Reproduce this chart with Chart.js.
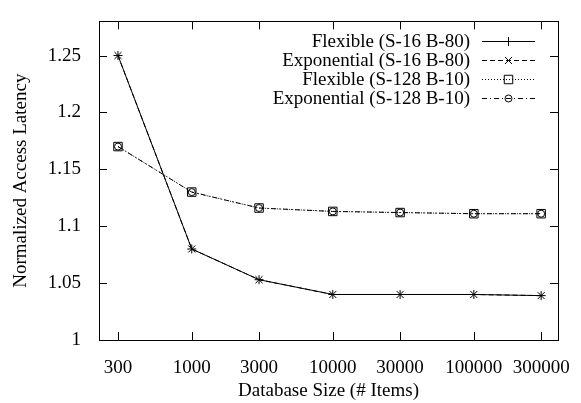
<!DOCTYPE html>
<html>
<head>
<meta charset="utf-8">
<script src="https://cdn.jsdelivr.net/npm/chart.js@4.4.1/dist/chart.umd.min.js"></script>
<style>
  html, body { margin: 0; padding: 0; background: #fff; }
</style>
</head>
<body>
<canvas id="myChart" width="581" height="403"></canvas>
<script>
// data
const sizes = [300, 1000, 3000, 10000, 30000, 100000, 300000];
const flexS16 = [1.25, 1.08, 1.053, 1.04, 1.04, 1.04, 1.039];
const expS16 = [1.25, 1.08, 1.053, 1.04, 1.04, 1.04, 1.039];
const flexS128 = [1.17, 1.13, 1.116, 1.113, 1.112, 1.111, 1.111];
const expS128 = [1.17, 1.13, 1.116, 1.113, 1.112, 1.111, 1.111];
const yTicks = [1, 1.05, 1.1, 1.15, 1.2, 1.25];
const labels = ['Flexible (S-16 B-80)', 'Exponential (S-16 B-80)', 'Flexible (S-128 B-10)', 'Exponential (S-128 B-10)'];

const font = 'Liberation Serif, Times New Roman, serif';

function pts(vals) {
    return sizes.map((s, i) => ({x: s, y: vals[i]}));
}

const styles = [
    {dash: [], point: 'cross', r: 4.5},
    {dash: [5, 3], point: 'crossRot', r: 5},
    {dash: [1, 2], point: 'rect', r: 6},
    {dash: [5, 3, 1, 3], point: 'circle', r: 3.5}
];

const series = [flexS16, expS16, flexS128, expS128];

// gnuplot-like frame with inward ticks and the key in the top right
const framePlugin = {
    id: 'frame',
    afterDraw(chart) {
        const ctx = chart.ctx;
        const a = chart.chartArea;
        const xs = chart.scales.x, ys = chart.scales.y;
        ctx.save();
        ctx.strokeStyle = '#000';
        ctx.lineWidth = 1;
        ctx.setLineDash([]);
        ctx.strokeRect(Math.round(a.left) + 0.5, Math.round(a.top) + 0.5, Math.round(a.right - a.left), Math.round(a.bottom - a.top));
        ctx.beginPath();
        sizes.forEach(v => {
            const px = Math.round(xs.getPixelForValue(v)) + 0.5;
            ctx.moveTo(px, a.bottom); ctx.lineTo(px, a.bottom - 8);
            ctx.moveTo(px, a.top); ctx.lineTo(px, a.top + 8);
        });
        yTicks.forEach(v => {
            const py = Math.round(ys.getPixelForValue(v)) + 0.5;
            ctx.moveTo(a.left, py); ctx.lineTo(a.left + 8, py);
            ctx.moveTo(a.right, py); ctx.lineTo(a.right - 8, py);
        });
        ctx.stroke();

        // key
        ctx.font = '19px ' + font;
        ctx.textAlign = 'right';
        ctx.textBaseline = 'middle';
        const textX = a.right - 88;
        const x0 = a.right - 76, x1 = a.right - 23;
        labels.forEach((lab, i) => {
            const y = Math.round(a.top + 20 + i * 19) + 0.5;
            ctx.fillStyle = '#000';
            ctx.fillText(lab, textX, y + 1);
            ctx.setLineDash(styles[i].dash);
            ctx.beginPath();
            ctx.moveTo(x0, y);
            ctx.lineTo(x1, y);
            ctx.stroke();
            ctx.setLineDash([]);
            ctx.fillStyle = 'rgba(0,0,0,0)';
            Chart.helpers.drawPoint(ctx, {pointStyle: styles[i].point, radius: styles[i].r, borderWidth: 1}, (x0 + x1) / 2, y);
        });
        ctx.restore();
    }
};

new Chart(document.getElementById('myChart'), {
    type: 'line',
    data: {
        datasets: series.map((vals, i) => ({
            label: labels[i],
            data: pts(vals),
            borderColor: '#000',
            borderWidth: 1,
            borderDash: styles[i].dash,
            pointStyle: styles[i].point,
            pointRadius: styles[i].r,
            pointBorderColor: '#000',
            pointBackgroundColor: 'rgba(0,0,0,0)',
            pointBorderWidth: 1,
            tension: 0,
            fill: false
        }))
    },
    options: {
        responsive: false,
        animation: false,
        devicePixelRatio: 1,
        layout: {padding: {left: 0, top: 8, right: 23, bottom: 0}},
        plugins: {
            legend: {display: false},
            tooltip: {enabled: false}
        },
        scales: {
            x: {
                type: 'logarithmic',
                min: 220,
                max: 395000,
                afterBuildTicks: s => { s.ticks = sizes.map(v => ({value: v})); },
                afterFit: s => { s.height = 63; },
                grid: {display: false},
                border: {display: false},
                ticks: {
                    autoSkip: false,
                    maxRotation: 0,
                    padding: 9,
                    color: '#000',
                    font: {family: font, size: 19},
                    callback: v => String(v)
                },
                title: {
                    display: true,
                    text: 'Database Size (# Items)',
                    color: '#000',
                    font: {family: font, size: 19},
                    padding: {top: 0, bottom: 1}
                }
            },
            y: {
                type: 'linear',
                min: 1,
                max: 1.28,
                afterBuildTicks: s => { s.ticks = yTicks.map(v => ({value: v})); },
                afterFit: s => { s.width = 99; },
                grid: {display: false},
                border: {display: false},
                ticks: {
                    padding: 10,
                    color: '#000',
                    font: {family: font, size: 19},
                    callback: v => String(v)
                },
                title: {
                    display: true,
                    text: 'Normalized Access Latency',
                    color: '#000',
                    font: {family: font, size: 19},
                    padding: {top: 10, bottom: 0}
                }
            }
        }
    },
    plugins: [framePlugin]
});
</script>
</body>
</html>
